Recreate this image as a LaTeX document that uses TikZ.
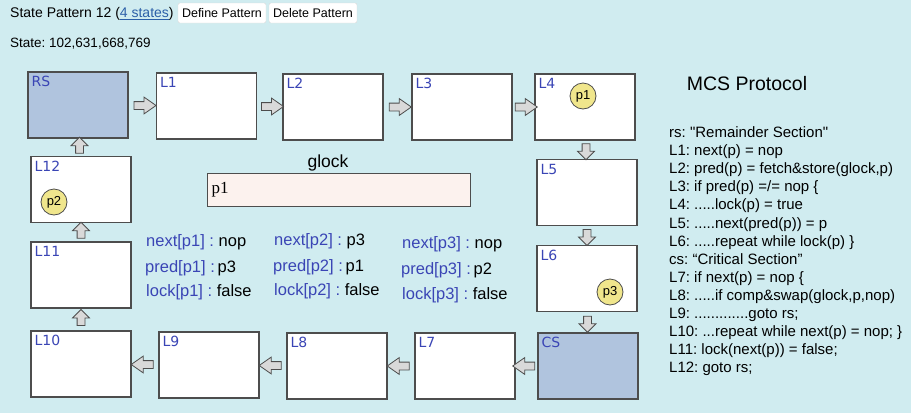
\documentclass[tikz,border=0pt]{standalone}
\usepackage{fontspec}
\setmainfont{Liberation Sans}[Ligatures=TeXOff]
\newfontfamily\tagfont{DejaVu Sans}
\newfontfamily\cellfont{Liberation Serif}
\usetikzlibrary{shapes.arrows}
\frenchspacing

\definecolor{panelcyan}{HTML}{D0ECF0}
\definecolor{sectionblue}{HTML}{B0C4DE}
\definecolor{tagblue}{HTML}{3A45B5}
\definecolor{tokenyellow}{HTML}{F0E68C}
\definecolor{glockpink}{HTML}{FCF2EE}
\definecolor{linkblue}{HTML}{2B5FA8}
\definecolor{edgegray}{HTML}{4D4D4D}

\begin{document}
\begin{tikzpicture}[
        x=1pt, y=-1pt,
        box/.style={draw=edgegray, line width=1.3pt, fill=white,
            minimum width=100pt, minimum height=66pt, inner sep=0pt},
        section/.style={box, fill=sectionblue},
        tag/.style={anchor=north west, inner sep=0pt, text=tagblue,
            font=\tagfont\fontsize{14}{14}\selectfont},
        token/.style={circle, draw=edgegray, line width=0.8pt, fill=tokenyellow,
            minimum size=26pt, inner sep=0pt, font=\fontsize{13}{13}\selectfont},
        blockarrow/.style={single arrow, draw=edgegray, line width=0.8pt,
            fill=black!15, inner sep=3.5pt, single arrow head extend=4.5pt},
        goright/.style={blockarrow, minimum height=22pt, single arrow tip angle=70},
        goleft/.style={goright, shape border rotate=180},
        godown/.style={blockarrow, minimum height=16pt, shape border rotate=270},
        goup/.style={godown, shape border rotate=90},
        var/.style={anchor=west, inner sep=0pt, font=\fontsize{16.5}{16.5}\selectfont},
        button/.style={draw=black!15, rounded corners=2pt, fill=white,
            minimum height=20pt, inner xsep=4pt, font=\fontsize{12.5}{12.5}\selectfont},
    ]

    \fill[panelcyan] (0,0) rectangle (911,413);

    % header line
    \node[anchor=west, inner sep=0pt, font=\fontsize{14}{14}\selectfont] (title) at (10,14)
        {State Pattern 12 ({\color{linkblue}\underline{4 states}})};
    \node[button, minimum width=88pt] (define) at (222,13) {Define Pattern};
    \node[button, minimum width=84pt] (delete) at (313,13) {Delete Pattern};
    \node[anchor=west, inner sep=0pt, font=\fontsize{13.5}{13.5}\selectfont] (state) at (10,44)
        {State: 102,631,668,769};

    % the ring of program locations
    \node[section] (rs)  at (78,105)    {};
    \node[box]     (l1)  at (206.5,106) {};
    \node[box]     (l2)  at (333,107)   {};
    \node[box]     (l3)  at (462,107)   {};
    \node[box]     (l4)  at (585,107)   {};
    \node[box]     (l5)  at (587,192.5) {};
    \node[box]     (l6)  at (587,278.5) {};
    \node[section] (cs)  at (588,366)   {};
    \node[box]     (l7)  at (465,366)   {};
    \node[box]     (l8)  at (337,366)   {};
    \node[box]     (l9)  at (209,365)   {};
    \node[box]     (l10) at (81,364)    {};
    \node[box]     (l11) at (81,275)    {};
    \node[box]     (l12) at (81,189.5)  {};

    \node[tag] (rstag)  at ([shift={(4,5)}]rs.north west)  {RS};
    \node[tag] (l1tag)  at ([shift={(4,5)}]l1.north west)  {L1};
    \node[tag] (l2tag)  at ([shift={(4,5)}]l2.north west)  {L2};
    \node[tag] (l3tag)  at ([shift={(4,5)}]l3.north west)  {L3};
    \node[tag] (l4tag)  at ([shift={(4,5)}]l4.north west)  {L4};
    \node[tag] (l5tag)  at ([shift={(4,5)}]l5.north west)  {L5};
    \node[tag] (l6tag)  at ([shift={(4,5)}]l6.north west)  {L6};
    \node[tag] (cstag)  at ([shift={(4,5)}]cs.north west)  {CS};
    \node[tag] (l7tag)  at ([shift={(4,5)}]l7.north west)  {L7};
    \node[tag] (l8tag)  at ([shift={(4,5)}]l8.north west)  {L8};
    \node[tag] (l9tag)  at ([shift={(4,5)}]l9.north west)  {L9};
    \node[tag] (l10tag) at ([shift={(4,5)}]l10.north west) {L10};
    \node[tag] (l11tag) at ([shift={(4,5)}]l11.north west) {L11};
    \node[tag] (l12tag) at ([shift={(4,5)}]l12.north west) {L12};

    \path (rs.east)   -- node[goright] (a1)  {} (l1.west);
    \path (l1.east)   -- node[goright] (a2)  {} (l2.west);
    \path (l2.east)   -- node[goright] (a3)  {} (l3.west);
    \path (l3.east)   -- node[goright] (a4)  {} (l4.west);
    \path (l4.south)  -- node[godown]  (a5)  {} (l5.north);
    \path (l5.south)  -- node[godown]  (a6)  {} (l6.north);
    \path (l6.south)  -- node[godown]  (a7)  {} (cs.north);
    \path (cs.west)   -- node[goleft]  (a8)  {} (l7.east);
    \path (l7.west)   -- node[goleft]  (a9)  {} (l8.east);
    \path (l8.west)   -- node[goleft]  (a10) {} (l9.east);
    \path (l9.west)   -- node[goleft]  (a11) {} (l10.east);
    \path (l10.north) -- node[goup]    (a12) {} (l11.south);
    \path (l11.north) -- node[goup]    (a13) {} (l12.south);
    \path (l12.north) -- node[goup]    (a14) {} (rs.south);

    % processes
    \node[token] (p1) at (583,96)  {p1};
    \node[token] (p2) at (54,202)  {p2};
    \node[token] (p3) at (610,292) {p3};

    % shared lock
    \node[font=\fontsize{17.5}{17.5}\selectfont, inner sep=0pt] (glocktitle) at (328,163) {glock};
    \node[draw=edgegray, line width=1pt, fill=glockpink, minimum width=263pt,
        minimum height=33pt, inner sep=0pt] (glock) at (338.5,189.5) {};
    \node[anchor=west, inner sep=0pt, font=\cellfont\fontsize{17}{17}\selectfont]
        (glockval) at ([xshift=5pt]glock.west) {p1};

    % per-process variables
    \node[var] (next1) at (146,242) {\textcolor{tagblue}{next[p1] :} nop};
    \node[var] (pred1) at (145,268) {\textcolor{tagblue}{pred[p1] :}\,p3};
    \node[var] (lock1) at (146,292) {\textcolor{tagblue}{lock[p1] :} false};
    \node[var] (next2) at (274,241) {\textcolor{tagblue}{next[p2] :} p3};
    \node[var] (pred2) at (273,267) {\textcolor{tagblue}{pred[p2] :}\,p1};
    \node[var] (lock2) at (274,291) {\textcolor{tagblue}{lock[p2] :} false};
    \node[var] (next3) at (402,244) {\textcolor{tagblue}{next[p3] :} nop};
    \node[var] (pred3) at (401,270) {\textcolor{tagblue}{pred[p3] :}\,p2};
    \node[var] (lock3) at (402,295) {\textcolor{tagblue}{lock[p3] :} false};

    % protocol listing
    \node[inner sep=0pt, font=\fontsize{19.5}{19.5}\selectfont] (proto) at (747,84) {MCS Protocol};
    \node[anchor=north west, align=left, inner sep=0pt,
        font=\fontsize{15}{18.1}\selectfont] (listing) at (669,126.5) {%
        rs: "Remainder Section"\\
        L1: next(p) = nop\\
        L2: pred(p) = fetch\&store(glock,p)\\
        L3: if pred(p) =/= nop \{\\
        L4: .....lock(p) = true\\
        L5: .....next(pred(p)) = p\\
        L6: .....repeat while lock(p) \}\\
        cs: “Critical Section”\\
        L7: if next(p) = nop \{\\
        L8: .....if comp\&swap(glock,p,nop)\\
        L9: .............goto rs;\\
        L10: ...repeat while next(p) = nop; \}\\
        L11: lock(next(p)) = false;\\
        L12: goto rs;};
\end{tikzpicture}
\end{document}
